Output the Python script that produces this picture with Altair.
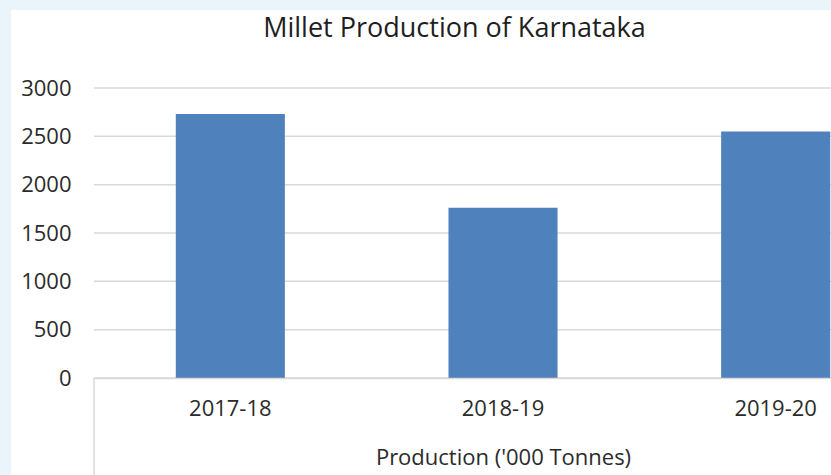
import altair as alt
import pandas as pd

seasons = ["2017-18", "2018-19", "2019-20"]
production = [2730, 1760, 2550]
y_ticks = [0, 500, 1000, 1500, 2000, 2500, 3000]

FONT = "Open Sans"
TEXT = "#2b2b2b"
GRID = "#d9d9d9"
BAR = "#4f81bd"

bars_df = pd.DataFrame({"Season": seasons, "Production": production})
grid_df = pd.DataFrame({"tick": y_ticks})

W, H = 737, 290

xscale = alt.Scale(domain=seasons, range=[0, 818], paddingInner=0.6, paddingOuter=0.3)
yscale = alt.Scale(domain=[0, 3000], nice=False)

yaxis = alt.Axis(
    title=None,
    values=y_ticks,
    format="d",
    grid=False,
    domain=False,
    ticks=False,
    labelFont=FONT,
    labelFontSize=22,
    labelColor=TEXT,
    labelPadding=23,
    zindex=1,
)

panel = alt.Chart(alt.Data(values=[{"a": 1}])).mark_rect(color="white").encode(
    x=alt.value(-83), x2=alt.value(W), y=alt.value(-78), y2=alt.value(H + 97)
)

grid = alt.Chart(grid_df).mark_rule(color=GRID, strokeWidth=1.5).encode(
    y=alt.Y("tick:Q", scale=yscale, axis=yaxis)
)

sep = alt.Chart(alt.Data(values=[{"a": 1}])).mark_rule(color=GRID, strokeWidth=1.5).encode(
    x=alt.value(0), y=alt.value(H), y2=alt.value(H + 97)
)

bars = alt.Chart(bars_df).mark_bar(color=BAR).encode(
    x=alt.X(
        "Season:N",
        scale=xscale,
        sort=seasons,
        axis=alt.Axis(
            title="Production ('000 Tonnes)",
            labelAngle=0,
            ticks=False,
            domainColor=GRID,
            domainWidth=1.5,
            labelFont=FONT,
            labelFontSize=22,
            labelColor=TEXT,
            labelPadding=20,
            titleFont=FONT,
            titleFontSize=22,
            titleFontWeight="normal",
            titleColor=TEXT,
            titlePadding=28,
            zindex=1,
        ),
    ),
    y=alt.Y("Production:Q", scale=yscale, axis=yaxis),
)

chart = (
    alt.layer(panel, grid, sep, bars)
    .properties(
        width=W,
        height=H,
        autosize=alt.AutoSizeParams(type="none"),
        padding={"left": 94, "top": 88, "right": 0, "bottom": 97},
        title=alt.TitleParams(
            "Millet Production of Karnataka",
            font=FONT,
            fontSize=27,
            fontWeight="normal",
            color="#1e1e1e",
            anchor="middle",
            baseline="alphabetic",
            offset=0,
            dx=-8,
            dy=54,
        ),
    )
    .configure(background="#eaf4fb")
    .configure_view(stroke=None)
)

chart.save("out.html", embed_options={"renderer": "svg", "actions": False})
